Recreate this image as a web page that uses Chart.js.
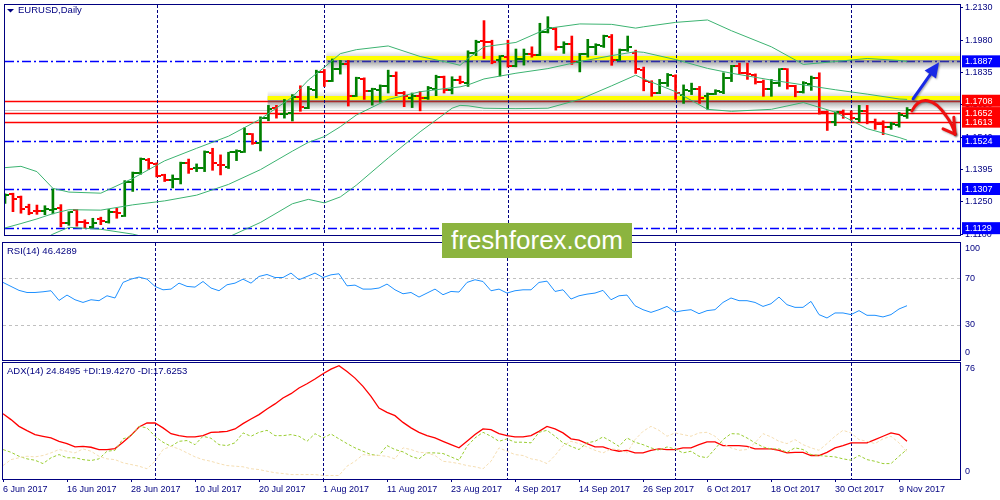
<!DOCTYPE html>
<html>
<head>
<meta charset="utf-8">
<title>EURUSD Daily</title>
<script src="https://cdn.jsdelivr.net/npm/chart.js@4.4.1/dist/chart.umd.min.js"></script>
<style>
  html, body { margin: 0; padding: 0; background: #fff; }
  #wrap { position: relative; width: 1000px; height: 500px; overflow: hidden; background: #fff; }
  #wrap canvas { position: absolute; left: 0; }
  #logo { position: absolute; left: 442px; top: 223px; width: 190px; height: 35px; background: #8cb43f;
          color: #fff; font: 26px "Liberation Sans", Arial, sans-serif; line-height: 35px; text-align: center; }
</style>
</head>
<body>
<div id="wrap">
  <canvas id="grafPreco" width="1000" height="240" style="top:0px"></canvas>
  <canvas id="grafRsi" width="1000" height="121" style="top:240px"></canvas>
  <canvas id="grafAdx" width="1000" height="139" style="top:361px"></canvas>
  <div id="logo">freshforex.com</div>
</div>
<script>
// =============================
// Dados
// =============================
const dateTicks  = [0, 8, 16, 24, 32, 40, 48, 56, 64, 72, 80, 88, 96, 104, 112];
const dateLabels = ["6 Jun 2017", "16 Jun 2017", "28 Jun 2017", "10 Jul 2017", "20 Jul 2017",
                    "1 Aug 2017", "11 Aug 2017", "23 Aug 2017", "4 Sep 2017", "14 Sep 2017",
                    "26 Sep 2017", "6 Oct 2017", "18 Oct 2017", "30 Oct 2017", "9 Nov 2017"];
const monthStarts = [19, 40, 63, 84, 106];   // separadores de mês

const opens = [
  1.1257, 1.1283, 1.1271, 1.1223, 1.1209, 1.1208, 1.1212, 1.1222, 1.1152, 1.1212,
  1.1157, 1.1135, 1.1172, 1.1155, 1.1204, 1.1185, 1.1341, 1.1378, 1.1440, 1.1421,
  1.1369, 1.1346, 1.1352, 1.1426, 1.1403, 1.1403, 1.1470, 1.1418, 1.1407, 1.1477,
  1.1477, 1.1556, 1.1517, 1.1628, 1.1674, 1.1647, 1.1652, 1.1727, 1.1677, 1.1758,
  1.1839, 1.1799, 1.1854, 1.1876, 1.1730, 1.1808, 1.1753, 1.1758, 1.1776, 1.1820,
  1.1742, 1.1721, 1.1731, 1.1721, 1.1763, 1.1814, 1.1758, 1.1802, 1.1790, 1.1926,
  1.1979, 1.1973, 1.1891, 1.1909, 1.1866, 1.1898, 1.1921, 1.1918, 1.2021, 1.2036,
  1.1950, 1.1967, 1.1883, 1.1921, 1.1950, 1.1957, 1.1997, 1.1894, 1.1940, 1.1925,
  1.1847, 1.1795, 1.1745, 1.1790, 1.1820, 1.1736, 1.1752, 1.1761, 1.1728, 1.1740,
  1.1748, 1.1810, 1.1866, 1.1835, 1.1827, 1.1795, 1.1761, 1.1788, 1.1850, 1.1774,
  1.1746, 1.1786, 1.1812, 1.1657, 1.1610, 1.1655, 1.1647, 1.1625, 1.1662, 1.1610,
  1.1601, 1.1588, 1.1600, 1.1640];
const highs = [
  1.1285, 1.1288, 1.1275, 1.1238, 1.1234, 1.1231, 1.1307, 1.1236, 1.1204, 1.1214,
  1.1167, 1.1174, 1.1179, 1.1214, 1.1219, 1.1345, 1.1384, 1.1448, 1.1446, 1.1426,
  1.1374, 1.1371, 1.1429, 1.1443, 1.1421, 1.1480, 1.1492, 1.1462, 1.1474, 1.1485,
  1.1585, 1.1559, 1.1635, 1.1687, 1.1687, 1.1714, 1.1736, 1.1776, 1.1773, 1.1847,
  1.1850, 1.1898, 1.1891, 1.1891, 1.1815, 1.1812, 1.1765, 1.1780, 1.1847, 1.1839,
  1.1750, 1.1743, 1.1750, 1.1773, 1.1824, 1.1820, 1.1817, 1.1820, 1.1935, 1.1983,
  1.2072, 1.1983, 1.1913, 1.1983, 1.1943, 1.1943, 1.1953, 1.2060, 1.2090, 1.2040,
  1.1976, 1.2002, 1.1923, 1.1987, 1.1967, 1.2006, 1.2009, 1.1943, 1.2002, 1.1938,
  1.1861, 1.1799, 1.1805, 1.1832, 1.1826, 1.1780, 1.1788, 1.1773, 1.1743, 1.1758,
  1.1835, 1.1869, 1.1879, 1.1879, 1.1830, 1.1802, 1.1805, 1.1854, 1.1854, 1.1778,
  1.1795, 1.1820, 1.1835, 1.1662, 1.1657, 1.1666, 1.1662, 1.1687, 1.1687, 1.1625,
  1.1617, 1.1610, 1.1655, 1.1677];
const lows = [
  1.1241, 1.1204, 1.1197, 1.1190, 1.1192, 1.1190, 1.1194, 1.1135, 1.1142, 1.1138,
  1.1129, 1.1131, 1.1145, 1.1152, 1.1174, 1.1182, 1.1296, 1.1374, 1.1396, 1.1362,
  1.1341, 1.1312, 1.1330, 1.1378, 1.1386, 1.1386, 1.1392, 1.1371, 1.1400, 1.1436,
  1.1473, 1.1510, 1.1480, 1.1617, 1.1629, 1.1629, 1.1616, 1.1660, 1.1672, 1.1721,
  1.1773, 1.1795, 1.1829, 1.1684, 1.1727, 1.1714, 1.1688, 1.1702, 1.1743, 1.1731,
  1.1681, 1.1677, 1.1662, 1.1714, 1.1731, 1.1743, 1.1739, 1.1785, 1.1773, 1.1913,
  1.1900, 1.1876, 1.1820, 1.1861, 1.1862, 1.1870, 1.1906, 1.1913, 1.2016, 1.1938,
  1.1923, 1.1873, 1.1839, 1.1906, 1.1917, 1.1950, 1.1869, 1.1891, 1.1932, 1.1832,
  1.1753, 1.1728, 1.1740, 1.1773, 1.1714, 1.1696, 1.1736, 1.1696, 1.1669, 1.1736,
  1.1740, 1.1795, 1.1829, 1.1805, 1.1784, 1.1728, 1.1728, 1.1773, 1.1761, 1.1726,
  1.1743, 1.1755, 1.1647, 1.1573, 1.1595, 1.1628, 1.1617, 1.1613, 1.1603, 1.1578,
  1.1554, 1.1578, 1.1588, 1.1628];
const closes = [
  1.1278, 1.1260, 1.1216, 1.1197, 1.1207, 1.1214, 1.1215, 1.1152, 1.1201, 1.1157,
  1.1152, 1.1152, 1.1163, 1.1201, 1.1197, 1.1340, 1.1381, 1.1443, 1.1426, 1.1364,
  1.1350, 1.1352, 1.1426, 1.1400, 1.1404, 1.1477, 1.1426, 1.1414, 1.1473, 1.1480,
  1.1559, 1.1517, 1.1628, 1.1669, 1.1647, 1.1650, 1.1727, 1.1678, 1.1761, 1.1839,
  1.1799, 1.1854, 1.1873, 1.1728, 1.1810, 1.1753, 1.1761, 1.1776, 1.1820, 1.1743,
  1.1728, 1.1731, 1.1721, 1.1765, 1.1817, 1.1758, 1.1802, 1.1793, 1.1926, 1.1976,
  1.1973, 1.1883, 1.1911, 1.1864, 1.1898, 1.1921, 1.1917, 1.2021, 1.2038, 1.1953,
  1.1965, 1.1883, 1.1921, 1.1953, 1.1962, 1.2002, 1.1894, 1.1938, 1.1953, 1.1850,
  1.1798, 1.1743, 1.1790, 1.1824, 1.1745, 1.1755, 1.1761, 1.1722, 1.1740, 1.1750,
  1.1810, 1.1864, 1.1835, 1.1829, 1.1795, 1.1761, 1.1788, 1.1850, 1.1776, 1.1746,
  1.1788, 1.1810, 1.1655, 1.1613, 1.1655, 1.1647, 1.1628, 1.1662, 1.1610, 1.1603,
  1.1588, 1.1603, 1.1643, 1.1668];

const bbIdx    = [0, 2, 4, 6, 8, 12, 16, 20, 24, 28, 32, 36, 38, 40, 42, 44, 48, 52, 56, 57,
                  58, 60, 64, 68, 72, 76, 79, 80, 84, 88, 91, 96, 100, 104, 108, 112, 113];
const bbUpper  = [1.1404, 1.1410, 1.1386, 1.1310, 1.1293, 1.1288, 1.1355, 1.1435, 1.1492, 1.1547,
                  1.1625, 1.1725, 1.1802, 1.1860, 1.1922, 1.1940, 1.1957, 1.1909, 1.1878, 1.1869,
                  1.1900, 1.1953, 1.1973, 1.2037, 1.2057, 1.2055, 1.2038, 1.2044, 1.2064, 1.2075,
                  1.2026, 1.1953, 1.1873, 1.1886, 1.1900, 1.1891, 1.1886];
const bbMiddle = [1.1130, 1.1150, 1.1171, 1.1195, 1.1213, 1.1211, 1.1235, 1.1253, 1.1279, 1.1328,
                  1.1395, 1.1479, 1.1519, 1.1545, 1.1590, 1.1643, 1.1714, 1.1749, 1.1767, 1.1771,
                  1.1780, 1.1807, 1.1833, 1.1854, 1.1886, 1.1913, 1.1931, 1.1928, 1.1895, 1.1855,
                  1.1833, 1.1802, 1.1780, 1.1758, 1.1738, 1.1716, 1.1714];
const bbLower  = [1.1027, 1.1045, 1.1062, 1.1102, 1.1133, 1.1124, 1.1102, 1.1067, 1.1058, 1.1089,
                  1.1155, 1.1240, 1.1260, 1.1244, 1.1271, 1.1324, 1.1448, 1.1567, 1.1674, 1.1687,
                  1.1685, 1.1674, 1.1672, 1.1674, 1.1714, 1.1776, 1.1824, 1.1807, 1.1749, 1.1669,
                  1.1660, 1.1669, 1.1700, 1.1656, 1.1581, 1.1541, 1.1529];

const rsi14 = [
  66.3, 62.9, 59.5, 57.7, 57.7, 58.3, 59.2, 50.9, 55.5, 51.5,
  49.2, 51.5, 50.7, 54.9, 53.0, 66.3, 69.1, 70.9, 69.1, 62.9,
  60.0, 60.6, 65.7, 62.9, 62.3, 67.1, 61.5, 59.2, 64.3, 65.7,
  69.1, 65.7, 71.4, 73.1, 70.5, 70.5, 74.3, 68.6, 71.4, 74.3,
  70.5, 72.8, 73.7, 63.4, 64.0, 60.6, 60.6, 61.5, 64.9, 60.0,
  56.6, 57.7, 53.8, 57.2, 60.6, 55.8, 58.6, 58.1, 66.3, 68.6,
  67.1, 59.2, 60.6, 57.2, 59.2, 60.0, 60.0, 66.3, 67.4, 58.6,
  60.0, 52.1, 54.9, 56.3, 57.2, 59.5, 51.5, 54.9, 55.5, 46.4,
  43.0, 40.7, 43.0, 45.8, 41.0, 42.2, 43.0, 39.6, 42.2, 43.0,
  49.2, 53.0, 50.7, 50.7, 49.2, 45.8, 48.1, 53.8, 47.3, 45.0,
  45.0, 50.1, 38.8, 35.9, 40.2, 40.2, 38.8, 42.2, 38.2, 38.2,
  36.8, 38.8, 43.6, 46.4];
const adx14 = [
  42.8, 38.9, 34.5, 31.7, 29.1, 28.0, 26.9, 24.7, 23.2, 21.0,
  21.4, 20.8, 19.3, 19.3, 19.9, 24.1, 28.6, 34.1, 36.7, 36.7,
  33.5, 29.7, 28.4, 27.6, 27.6, 28.4, 30.6, 30.8, 31.2, 32.8,
  36.3, 39.3, 42.2, 45.9, 49.2, 53.1, 55.9, 59.6, 62.4, 65.5,
  69.0, 72.0, 74.2, 70.5, 66.1, 60.7, 54.1, 46.5, 43.7, 41.5,
  37.1, 33.5, 30.6, 28.4, 26.9, 24.7, 22.5, 20.4, 24.7, 29.1,
  32.8, 32.4, 29.7, 28.4, 27.6, 27.6, 28.4, 31.2, 34.5, 32.8,
  30.2, 26.3, 25.4, 23.2, 21.0, 21.0, 19.3, 18.2, 18.8, 17.1,
  17.1, 18.8, 19.7, 19.3, 19.3, 20.4, 20.4, 22.5, 24.3, 24.3,
  21.9, 21.9, 21.9, 21.4, 19.7, 19.7, 19.7, 18.8, 17.1, 17.5,
  17.5, 15.4, 15.4, 17.5, 20.4, 21.9, 23.7, 23.7, 23.7, 25.8,
  28.0, 30.2, 29.1, 24.8];
const diPlus = [
  19.3, 17.5, 14.9, 13.2, 12.3, 10.1, 13.9, 16.0, 13.9, 13.9,
  12.7, 12.1, 13.2, 18.2, 18.8, 26.3, 28.0, 34.5, 33.5, 28.0,
  24.1, 21.4, 24.7, 25.2, 22.5, 28.0, 26.7, 22.5, 21.9, 23.7,
  30.2, 28.0, 30.6, 31.9, 28.4, 28.4, 29.1, 28.0, 24.7, 29.7,
  26.9, 29.5, 26.3, 23.2, 20.4, 18.2, 16.0, 15.4, 21.9, 19.3,
  17.8, 14.9, 13.2, 17.1, 17.1, 16.7, 14.5, 12.3, 21.4, 26.9,
  30.6, 28.0, 24.7, 26.3, 24.1, 24.1, 23.7, 30.6, 31.9, 28.0,
  23.7, 21.4, 19.3, 23.7, 24.7, 27.6, 24.7, 21.4, 26.9, 24.1,
  22.5, 20.4, 18.8, 21.0, 19.7, 17.1, 18.2, 14.9, 13.9, 19.7,
  25.8, 29.7, 29.5, 26.9, 23.7, 21.0, 19.7, 19.7, 17.5, 20.4,
  19.3, 16.0, 15.4, 14.9, 14.5, 13.2, 12.3, 15.4, 12.7, 11.6,
  10.1, 10.1, 14.9, 19.4];
const diMinus = [
  8.8, 12.7, 13.9, 14.9, 14.5, 15.4, 17.1, 19.3, 18.2, 17.1,
  19.7, 18.2, 14.9, 13.2, 12.7, 10.6, 9.5, 8.4, 6.7, 11.6,
  19.3, 21.4, 19.7, 17.1, 14.5, 12.7, 11.6, 10.1, 8.8, 8.4,
  8.0, 6.7, 6.2, 5.1, 4.1, 3.6, 2.9, 2.9, 2.9, 2.9,
  2.3, 2.3, 2.3, 8.4, 11.6, 16.0, 15.4, 15.4, 14.9, 13.2,
  20.4, 19.3, 17.5, 17.1, 15.4, 11.6, 11.0, 10.1, 8.8, 8.0,
  6.7, 11.6, 20.4, 18.2, 16.0, 15.4, 13.2, 12.3, 10.1, 15.4,
  21.9, 24.7, 23.2, 21.0, 18.8, 17.1, 19.7, 19.3, 17.1, 25.8,
  31.2, 34.5, 31.9, 28.0, 30.2, 29.1, 28.0, 30.2, 30.6, 28.0,
  23.2, 20.4, 18.8, 19.3, 23.7, 29.7, 27.6, 24.7, 23.2, 25.8,
  22.5, 20.4, 18.8, 23.2, 28.0, 31.9, 30.2, 25.8, 24.7, 23.2,
  26.3, 28.0, 23.7, 17.6];

const precoTicks = [1.2130, 1.1980, 1.1835, 1.1690, 1.1540, 1.1395, 1.1250, 1.1100];
const rsiTicks = [100, 70, 30, 0];
const rsiLevels = [70, 30];
const adxTicks = [76, 0];

// Níveis desenhados à mão no gráfico
const niveisAzuis = [1.1887, 1.1524, 1.1307, 1.1129];
const niveisVermelhos = [1.1708, 1.1652, 1.1613];
const zonasAmarelas = [1.1887, 1.1708];
const inicioZonas = [40.25, 32.9];            // barra onde começa cada faixa
const setaAlta = [[113.75, 1.1717], [117.0, 1.1883]];
const setaBaixa = [[113.6, 1.1662], [114.6, 1.1733], [116.4, 1.1722], [117.9, 1.1638],
                   [118.7, 1.1600], [119.0, 1.1556]];
const farpasBaixa = [[117.5, 1.1580], [118.85, 1.1633]];

const tituloPreco = "EURUSD,Daily";
const tituloRsi = "RSI(14) 46.4289";
const tituloAdx = "ADX(14) 24.8495 +DI:19.4270 -DI:17.6253";

// =============================
// Estilo
// =============================
const NAVY = "#000080";
const UP = "#008000";
const DOWN = "#ff0000";
const BB = "#3cb371";
const FONTE = '"Liberation Sans", Arial, sans-serif';
const X_MAX = 119.625;   // 8 px por barra

Chart.defaults.font.family = FONTE;
Chart.defaults.font.size = 9;

function isUp(i) { return closes[i] >= opens[i]; }

// traço de abertura (esquerda) / fechamento (direita)
function tickImage(color, lado) {
  const c = document.createElement("canvas");
  c.width = 8; c.height = 2;
  const g = c.getContext("2d");
  g.fillStyle = color;
  g.fillRect(lado === "open" ? 0 : 5, 0, 3, 2);
  return c;
}
const imgs = {
  open: { up: tickImage(UP, "open"), down: tickImage(DOWN, "open") },
  close: { up: tickImage(UP, "close"), down: tickImage(DOWN, "close") }
};

function eixoX() {
  return { type: "linear", min: 0, max: X_MAX, display: false, offset: false };
}

function linhaH(ctx, a, py, x0) {
  ctx.beginPath();
  ctx.moveTo(x0 === undefined ? a.left : x0, py);
  ctx.lineTo(a.right, py);
  ctx.stroke();
}

function separadores(chart) {
  const { ctx, chartArea: a, scales: { x } } = chart;
  ctx.save();
  ctx.strokeStyle = NAVY;
  ctx.lineWidth = 1;
  ctx.setLineDash([3, 2]);
  monthStarts.forEach(i => {
    const px = Math.round(x.getPixelForValue(i)) + 0.5;
    ctx.beginPath(); ctx.moveTo(px, a.top); ctx.lineTo(px, a.bottom); ctx.stroke();
  });
  ctx.restore();
}

function moldura(chart) {
  const { ctx, chartArea: a } = chart;
  ctx.save();
  ctx.strokeStyle = NAVY;
  ctx.lineWidth = 1;
  ctx.strokeRect(a.left - 0.5, a.top - 0.5, a.right - a.left + 1, a.bottom - a.top + 1);
  ctx.restore();
}

function titulo(ctx, texto, x, y) {
  ctx.save();
  ctx.font = "9.5px " + FONTE;
  ctx.fillStyle = NAVY;
  ctx.textBaseline = "middle";
  ctx.fillText(texto, x, y);
  ctx.restore();
}

// rótulos do eixo direito dos indicadores (presos dentro da janela)
function rotulos(chart, valores) {
  const { ctx, chartArea: a, scales: { y } } = chart;
  ctx.save();
  ctx.font = "9px " + FONTE;
  ctx.fillStyle = NAVY;
  ctx.textBaseline = "middle";
  valores.forEach(v => {
    const py = y.getPixelForValue(v);
    const ty = Math.min(Math.max(py, a.top + 6), a.bottom - 7);
    ctx.fillText(String(v), a.right + 5, ty);
  });
  ctx.restore();
}

// =============================
// Janela de preço
// =============================
const precoPlugin = {
  id: "precoPlugin",
  beforeDatasetsDraw(chart) {
    const { ctx, chartArea: a, scales: { x, y } } = chart;
    ctx.save();
    ctx.lineWidth = 1.5;
    ctx.strokeStyle = "#0000ff";
    ctx.setLineDash([9, 3, 2, 3]);
    niveisAzuis.forEach(p => linhaH(ctx, a, Math.round(y.getPixelForValue(p)) + 0.5));
    ctx.setLineDash([]);
    ctx.lineWidth = 1;
    ctx.strokeStyle = "#c8c8c8";
    linhaH(ctx, a, Math.round(y.getPixelForValue(closes[closes.length - 1])) + 0.5);
    ctx.lineWidth = 1.5;
    ctx.strokeStyle = "#ff0000";
    niveisVermelhos.forEach(p => linhaH(ctx, a, Math.round(y.getPixelForValue(p)) + 0.5));

    // faixas amarelas com sombra
    zonasAmarelas.forEach((p, k) => {
      const py = Math.round(y.getPixelForValue(p));
      const x0 = x.getPixelForValue(inicioZonas[k]);
      const g = ctx.createLinearGradient(0, py - 10, 0, py + 9);
      g.addColorStop(0, "rgba(110,110,110,0)");
      g.addColorStop(0.26, "rgba(110,110,110,0.22)");
      g.addColorStop(0.48, "rgba(80,80,80,0.6)");
      g.addColorStop(1, "rgba(110,110,110,0)");
      ctx.fillStyle = g;
      ctx.fillRect(x0, py - 10, a.right - x0, 19);
      ctx.fillStyle = "#ffff00";
      ctx.fillRect(x0, py - 5, a.right - x0, 4);
    });
    ctx.restore();
    separadores(chart);
  },
  afterDraw(chart) {
    const { ctx, chartArea: a, scales: { x, y } } = chart;
    moldura(chart);

    // caixas dos níveis no eixo
    const caixas = niveisAzuis.map(p => [p, "#0000ff"]).concat(niveisVermelhos.map(p => [p, "#ff0000"]));
    ctx.save();
    caixas.forEach(([p, cor]) => {
      const py = y.getPixelForValue(p);
      ctx.fillStyle = cor;
      ctx.fillRect(a.right + 2, py - 6, 40, 12);
    });
    ctx.font = "9px " + FONTE;
    ctx.fillStyle = "#ffffff";
    ctx.textBaseline = "middle";
    caixas.forEach(([p]) => ctx.fillText(p.toFixed(4), a.right + 5, y.getPixelForValue(p) + 0.5));
    ctx.restore();

    // título
    ctx.save();
    ctx.fillStyle = NAVY;
    ctx.beginPath(); ctx.moveTo(7, 9); ctx.lineTo(14, 9); ctx.lineTo(10.5, 12.5); ctx.closePath(); ctx.fill();
    ctx.restore();
    titulo(ctx, tituloPreco, 18, 10.5);

    // seta azul (rompimento para cima)
    const px = p => [x.getPixelForValue(p[0]), y.getPixelForValue(p[1])];
    const [x0, y0] = px(setaAlta[0]);
    const [x1, y1] = px(setaAlta[1]);
    const ang = Math.atan2(y1 - y0, x1 - x0);
    const bx = x1 - 15 * Math.cos(ang), by = y1 - 15 * Math.sin(ang);
    ctx.save();
    ctx.shadowColor = "rgba(0,0,0,0.35)"; ctx.shadowBlur = 2; ctx.shadowOffsetX = 1; ctx.shadowOffsetY = 1;
    ctx.strokeStyle = "#1a2ae6"; ctx.fillStyle = "#1a2ae6";
    ctx.lineWidth = 3; ctx.lineCap = "round";
    ctx.beginPath(); ctx.moveTo(x0, y0); ctx.lineTo(bx, by); ctx.stroke();
    ctx.beginPath();
    ctx.moveTo(x1, y1);
    ctx.lineTo(bx + 7 * Math.sin(ang), by - 7 * Math.cos(ang));
    ctx.lineTo(bx - 7 * Math.sin(ang), by + 7 * Math.cos(ang));
    ctx.closePath(); ctx.fill();

    // seta vermelha (queda)
    const s = setaBaixa.map(px);
    ctx.strokeStyle = "#ee1111"; ctx.lineWidth = 3; ctx.lineJoin = "round";
    ctx.beginPath();
    ctx.moveTo(s[0][0], s[0][1]);
    ctx.bezierCurveTo(s[1][0], s[1][1], s[2][0], s[2][1], s[3][0], s[3][1]);
    ctx.quadraticCurveTo(s[4][0], s[4][1], s[5][0], s[5][1]);
    ctx.stroke();
    farpasBaixa.map(px).forEach(([fx, fy]) => {
      ctx.beginPath(); ctx.moveTo(fx, fy); ctx.lineTo(s[5][0], s[5][1]); ctx.stroke();
    });
    ctx.restore();
  }
};

new Chart(document.getElementById("grafPreco"), {
  type: "bar",
  data: {
    datasets: [
      { type: "line", data: bbIdx.map((v, k) => ({ x: v, y: bbUpper[k] })), borderColor: BB, borderWidth: 1, pointRadius: 0, order: 0 },
      { type: "line", data: bbIdx.map((v, k) => ({ x: v, y: bbMiddle[k] })), borderColor: BB, borderWidth: 1, pointRadius: 0, order: 0 },
      { type: "line", data: bbIdx.map((v, k) => ({ x: v, y: bbLower[k] })), borderColor: BB, borderWidth: 1, pointRadius: 0, order: 0 },
      {
        type: "bar",
        data: highs.map((h, i) => ({ x: i, y: [lows[i], h] })),
        backgroundColor: c => isUp(c.dataIndex) ? UP : DOWN,
        barThickness: 2, grouped: false, order: 3
      },
      {
        type: "line", showLine: false, order: 2,
        data: opens.map((o, i) => ({ x: i, y: o })),
        pointRadius: 1, pointStyle: c => isUp(c.dataIndex) ? imgs.open.up : imgs.open.down
      },
      {
        type: "line", showLine: false, order: 2,
        data: closes.map((o, i) => ({ x: i, y: o })),
        pointRadius: 1, pointStyle: c => isUp(c.dataIndex) ? imgs.close.up : imgs.close.down
      }
    ]
  },
  options: {
    responsive: false, animation: false, events: [], devicePixelRatio: 1,
    layout: { padding: { left: 3, top: 3, right: 0, bottom: 1 } },
    plugins: { legend: { display: false }, tooltip: { enabled: false } },
    scales: {
      x: eixoX(),
      y: {
        position: "right", min: 1.1098, max: 1.2143, bounds: "data",
        afterBuildTicks: ax => { ax.ticks = precoTicks.map(v => ({ value: v })); },
        afterFit: ax => { ax.width = 40; ax.paddingTop = 0; ax.paddingBottom = 0; },
        ticks: { autoSkip: false, padding: 2, color: NAVY, font: { size: 9 }, callback: v => v.toFixed(4) },
        grid: { drawOnChartArea: false, drawTicks: true, tickLength: 3, color: NAVY },
        border: { display: false }
      }
    }
  },
  plugins: [precoPlugin]
});

// =============================
// RSI
// =============================
const rsiPlugin = {
  id: "rsiPlugin",
  beforeDatasetsDraw(chart) {
    const { ctx, chartArea: a, scales: { y } } = chart;
    ctx.save();
    ctx.strokeStyle = "#c0c0c0"; ctx.lineWidth = 1; ctx.setLineDash([3, 3]);
    rsiLevels.forEach(v => linhaH(ctx, a, Math.round(y.getPixelForValue(v)) + 0.5));
    ctx.restore();
    separadores(chart);
  },
  afterDraw(chart) {
    moldura(chart);
    titulo(chart.ctx, tituloRsi, 7, 11.5);
    rotulos(chart, rsiTicks);
  }
};

new Chart(document.getElementById("grafRsi"), {
  type: "line",
  data: { datasets: [{ data: rsi14.map((v, i) => ({ x: i, y: v })), borderColor: "#1e90ff", borderWidth: 1, pointRadius: 0 }] },
  options: {
    responsive: false, animation: false, events: [], devicePixelRatio: 1,
    layout: { padding: { left: 3, top: 3, right: 40, bottom: 1 } },
    plugins: { legend: { display: false }, tooltip: { enabled: false } },
    scales: { x: eixoX(), y: { min: 0, max: 100, display: false } }
  },
  plugins: [rsiPlugin]
});

// =============================
// ADX
// =============================
const adxPlugin = {
  id: "adxPlugin",
  beforeDatasetsDraw(chart) { separadores(chart); },
  afterDraw(chart) {
    moldura(chart);
    titulo(chart.ctx, tituloAdx, 7, 10.5);
    rotulos(chart, adxTicks);
  }
};

new Chart(document.getElementById("grafAdx"), {
  type: "line",
  data: {
    datasets: [
      { data: diMinus.map((v, i) => ({ x: i, y: v })), borderColor: "#f5deb3", borderWidth: 1, borderDash: [3, 2], pointRadius: 0 },
      { data: diPlus.map((v, i) => ({ x: i, y: v })), borderColor: "#9acd32", borderWidth: 1, borderDash: [3, 2], pointRadius: 0 },
      { data: adx14.map((v, i) => ({ x: i, y: v })), borderColor: "#ff0000", borderWidth: 1.3, pointRadius: 0 }
    ]
  },
  options: {
    responsive: false, animation: false, events: [], devicePixelRatio: 1,
    layout: { padding: { left: 3, top: 2, right: 40, bottom: 0 } },
    plugins: { legend: { display: false }, tooltip: { enabled: false } },
    scales: {
      x: {
        type: "linear", min: 0, max: X_MAX, offset: false, position: "bottom",
        afterBuildTicks: ax => { ax.ticks = dateTicks.map(v => ({ value: v })); },
        afterFit: ax => { ax.height = 21; ax.paddingLeft = 0; ax.paddingRight = 0; },
        ticks: {
          autoSkip: false, maxRotation: 0, minRotation: 0, align: "start", padding: 2,
          color: NAVY, font: { size: 9 }, callback: v => dateLabels[dateTicks.indexOf(v)]
        },
        grid: { drawOnChartArea: false, drawTicks: true, tickLength: 3, color: NAVY },
        border: { display: false }
      },
      y: { min: 0, max: 76, display: false }
    }
  },
  plugins: [adxPlugin]
});
</script>
</body>
</html>
